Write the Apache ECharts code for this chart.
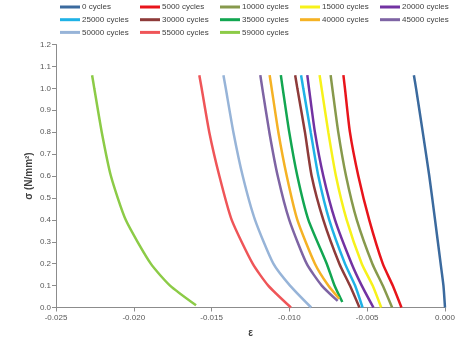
<!DOCTYPE html>
<html><head><meta charset="utf-8">
<script src="https://cdn.jsdelivr.net/npm/echarts@6/dist/echarts.min.js"></script>
<style>html,body{margin:0;padding:0;background:#fff}#c{width:465px;height:346px}</style>
</head><body><div id="c"></div>
<script>
const seriesNames = ['0 cycles','5000 cycles','10000 cycles','15000 cycles','20000 cycles',
  '25000 cycles','30000 cycles','35000 cycles','40000 cycles','45000 cycles',
  '50000 cycles','55000 cycles','59000 cycles'];
const colors = ['#3B6A9E','#E8141B','#87994C','#F7F21A','#7232A2',
  '#1FB2E6','#8E3B3A','#12A651','#F5B224','#7E64A4',
  '#97B4D8','#EF5558','#8CCB47'];
// stress levels (N/mm2) shared by all curves above the lowest point
const sigmaLevels = [0.1, 0.2, 0.4, 0.6, 0.8, 1.0, 1.06];
// lowest point of each curve: [epsilon, sigma]
const bottomPoints = [
  [0.0000, 0.0], [-0.0028, 0.0], [-0.0034, 0.0], [-0.0041, 0.0], [-0.0046, 0.0],
  [-0.0053, 0.0], [-0.0055, 0.0], [-0.0066, 0.025], [-0.0068, 0.04], [-0.0069, 0.03],
  [-0.0086, 0.0], [-0.0099, 0.0], [-0.0160, 0.01]
];
// strain at each sigma level
const eps0     = [-0.00010, -0.00028, -0.00064, -0.00101, -0.00143, -0.00186, -0.00200];
const eps5000  = [-0.00336, -0.00400, -0.00487, -0.00557, -0.00611, -0.00643, -0.00653];
const eps10000 = [-0.00400, -0.00467, -0.00567, -0.00636, -0.00686, -0.00724, -0.00735];
const eps15000 = [-0.00465, -0.00535, -0.00632, -0.00701, -0.00750, -0.00793, -0.00806];
const eps20000 = [-0.00535, -0.00600, -0.00707, -0.00782, -0.00836, -0.00874, -0.00885];
const eps25000 = [-0.00578, -0.00643, -0.00744, -0.00814, -0.00863, -0.00911, -0.00925];
const eps30000 = [-0.00611, -0.00679, -0.00782, -0.00857, -0.00900, -0.00949, -0.00963];
const eps35000 = [-0.00710, -0.00760, -0.00878, -0.00949, -0.01001, -0.01043, -0.01055];
const eps40000 = [-0.00750, -0.00836, -0.00949, -0.01017, -0.01071, -0.01114, -0.01127];
const eps45000 = [-0.00792, -0.00889, -0.01001, -0.01075, -0.01129, -0.01174, -0.01187];
const eps50000 = [-0.00996, -0.01103, -0.01221, -0.01300, -0.01360, -0.01409, -0.01424];
const eps55000 = [-0.01136, -0.01236, -0.01371, -0.01450, -0.01515, -0.01564, -0.01579];
const eps59000 = [-0.01767, -0.01891, -0.02052, -0.02147, -0.02206, -0.02254, -0.02268];
const epsAll = [eps0, eps5000, eps10000, eps15000, eps20000, eps25000, eps30000,
  eps35000, eps40000, eps45000, eps50000, eps55000, eps59000];
const xTicks = [-0.025, -0.020, -0.015, -0.010, -0.005, 0.000];

const series = seriesNames.map((n, i) => ({
  name: n, type: 'line', showSymbol: false, smooth: 0.2,
  color: colors[i],
  lineStyle: { width: 2.5, color: colors[i] },
  data: [bottomPoints[i]].concat(epsAll[i].map((e, k) => [e, sigmaLevels[k]]))
}));

const legends = [];
for (let c = 0; c < 5; c++) {
  const d = [];
  for (let r = 0; r < 3; r++) { const idx = r * 5 + c; if (idx < seriesNames.length) d.push(seriesNames[idx]); }
  legends.push({
    orient: 'vertical', left: 60 + c * 80, top: 2, itemWidth: 20, itemHeight: 3, itemGap: 2.7,
    icon: 'rect', data: d, selectedMode: false, padding: 0,
    textStyle: { fontSize: 8, color: '#404040', fontFamily: 'Liberation Sans', lineHeight: 10, padding: [0,0,0,-3] }
  });
}

const axisTextColor = '#595959';
const chart = echarts.init(document.getElementById('c'), null, { renderer: 'canvas' });
chart.setOption({
  animation: false,
  backgroundColor: '#fff',
  legend: legends,
  grid: { left: 56, right: 20, top: 44.5, bottom: 38.5 },
  xAxis: {
    type: 'value', min: xTicks[0], max: xTicks[xTicks.length - 1], interval: 0.005,
    name: 'ε', nameLocation: 'middle', nameGap: 21, nameMoveOverlap: false,
    nameTextStyle: { fontSize: 10, fontWeight: 'bold', color: '#404040', fontFamily: 'Liberation Sans' },
    axisLine: { onZero: false, lineStyle: { color: '#8C8C8C' } },
    axisTick: { show: true, length: 4, lineStyle: { color: '#8C8C8C' } },
    splitLine: { show: false },
    axisLabel: { fontSize: 8, color: axisTextColor, fontFamily: 'Liberation Sans', margin: 6,
      formatter: v => v.toFixed(3) }
  },
  yAxis: {
    type: 'value', min: 0, max: 1.2, interval: 0.1,
    name: 'σ (N/mm²)', nameLocation: 'middle', nameGap: 22, nameRotate: 90, nameMoveOverlap: false,
    nameTextStyle: { fontSize: 10, fontWeight: 'bold', color: '#404040', fontFamily: 'Liberation Sans' },
    axisLine: { show: true, onZero: false, lineStyle: { color: '#8C8C8C' } },
    axisTick: { show: true, length: 4, lineStyle: { color: '#8C8C8C' } },
    splitLine: { show: false },
    axisLabel: { fontSize: 8, color: axisTextColor, fontFamily: 'Liberation Sans', margin: 5,
      formatter: v => v.toFixed(1) }
  },
  series: series
});
</script></body></html>
